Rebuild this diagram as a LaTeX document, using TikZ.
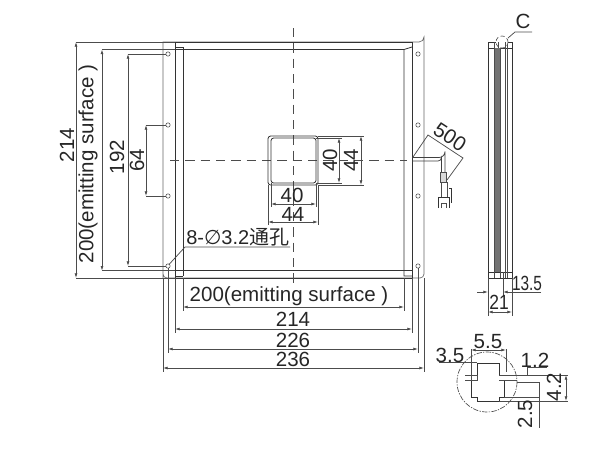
\documentclass[tikz,border=0pt]{standalone}
\usepackage{fontspec}
\setmainfont{Liberation Sans}
\newfontfamily\cjkf{Noto Sans CJK SC}
\newfontfamily\symf{DejaVu Sans}
\usetikzlibrary{arrows.meta}
\tikzset{
  x=0.75pt,y=-0.75pt,
  part/.style={draw=black!80,line width=0.6pt},
  thin part/.style={draw=black!70,line width=0.5pt},
  dim/.style={draw=black!70,line width=0.55pt},
  dimarr/.style={dim,{Latex[length=3.5pt,width=2.2pt]}-{Latex[length=3.5pt,width=2.2pt]}},
  onearr/.style={dim,-{Latex[length=3.5pt,width=2.2pt]}},
  center line/.style={draw=black!70,line width=0.5pt,dash pattern=on 7pt off 4.5pt},
  lab/.style={inner sep=0pt,text=black!85,font=\fontsize{15.4}{17}\selectfont},
  hole/.style={draw=black!70,line width=0.4pt,fill=white},
}
\begin{document}
\begin{tikzpicture}
\useasboundingbox (0,0) rectangle (600,450);
% plate
\draw[thin part,draw=black!60] (163,278) -- (163,42) -- (419,42) arc[start angle=90,end angle=0,radius=5] -- (424,274) arc[start angle=0,end angle=90,radius=4] -- (167,278) arc[start angle=90,end angle=180,radius=4];
% panel
\draw[part] (175,278) -- (175,42) -- (412,42) -- (412,278);
\draw[part] (175,278) -- (412,278);
\draw[part] (175,49.5) -- (404,49.5);
\draw[part] (175,270.7) -- (412,270.7);
\draw[part] (175,47) -- (183,47) -- (183,276);
\draw[part] (412,47) -- (404,49.5) -- (404,276) -- (412,276);
\draw[part] (175,276) -- (183,276);
% center lines
\draw[center line] (293,28) -- (293,284);
\draw[center line] (170,160) -- (407,160);
% holes
\foreach \hx/\hname in {168/l,418/r}
  \foreach \hy/\hn in {54/a,125/b,196/c,266/d}
    \path[hole,draw] (\hx,\hy) circle (2.2) coordinate (h\hname\hn);
% window
\draw[part,rounded corners=2pt] (268,136) rectangle (318,185);
\draw[part,rounded corners=2pt] (271,138) rectangle (316,183);
% left dims
\draw[dimarr] (76,42) -- (76,278);
\draw[dim] (76,42) -- (175,42);
\draw[dim] (76,278) -- (175,278);
\draw[dimarr] (102,49.5) -- (102,270.7);
\draw[dim] (102,49.5) -- (175,49.5);
\draw[dim] (102,270.7) -- (175,270.7);
\draw[dimarr] (128,54) -- (128,266);
\draw[dim] (128,54) -- (165.8,54);
\draw[dim] (128,266) -- (165.8,266);
\draw[dimarr] (146,125) -- (146,196);
\draw[dim] (146,125) -- (165.8,125);
\draw[dim] (146,196) -- (165.8,196);
\node[lab,rotate=90] (t214) at (67,145) {214};
\node[lab,rotate=90] (t200v) at (88,164) {200(emitting surface )};
\node[lab,rotate=90] (t192) at (117,157) {192};
\node[lab,rotate=90] (t64) at (137,160) {64};
% bottom dims
\draw[dim] (163,278) -- (163,372);
\draw[dim] (424,278) -- (424,372);
\draw[dim] (168,268) -- (168,353);
\draw[dim] (418,268) -- (418,353);
\draw[dim] (175,278) -- (175,333);
\draw[dim] (412,278) -- (412,333);
\draw[dim] (183,278) -- (183,311);
\draw[dim] (404,278) -- (404,311);
\draw[dimarr] (183,307) -- (404,307);
\draw[dimarr] (175,329) -- (412,329);
\draw[dimarr] (168,349) -- (418,349);
\draw[dimarr] (163,368) -- (424,368);
\node[lab] (t200h) at (289,296) {200(emitting surface )};
\node[lab] (tb214) at (293,319) {214};
\node[lab] (tb226) at (293,340) {226};
\node[lab] (tb236) at (293,359) {236};
% window dims
\draw[dimarr] (339,138) -- (339,183);
\draw[dimarr] (361,136) -- (361,185);
\draw[dim] (316,138) -- (342,138);
\draw[dim] (316,183) -- (342,183);
\draw[dim] (318,136) -- (364,136);
\draw[dim] (318,185) -- (364,185);
\draw[dimarr] (271,204) -- (316,204);
\draw[dimarr] (268,222) -- (318,222);
\draw[dim] (271,183) -- (271,207);
\draw[dim] (316,183) -- (316,207);
\draw[dim] (268,185) -- (268,225);
\draw[dim] (318,185) -- (318,225);
\node[lab] (w40) at (292,195) {40};
\node[lab] (w44) at (293,214) {44};
\node[lab,rotate=90] (v40) at (330,160) {40};
\node[lab,rotate=90] (v44) at (351,160) {44};
% cable
\draw[line width=0.55pt,draw=black!75] (412,157.5) -- (439,157.5) arc[start angle=90,end angle=0,radius=6] -- (445,172);
\draw[line width=0.55pt,draw=black!75] (412,161) -- (438,161) arc[start angle=90,end angle=0,radius=3.5] -- (441.5,172);
\draw[thin part,fill=black!15] (440.5,172) rectangle (446,182);
\draw[thin part,fill=white] (441,182) rectangle (447,197);
\draw[part] (438,208) -- (438,197) -- (449,197) -- (449,208);
\draw[thin part] (441,208) -- (441,203) -- (446,203) -- (446,208);
\draw[part] (449,188) -- (451,188) -- (451,203);
% 500 dim
\coordinate (c1) at (413,157);
\coordinate (c2) at (428,135);
\coordinate (c3) at (463,158);
\coordinate (c4) at (447,180);
\draw[dim] (c1) -- (c2) -- (c3) -- (c4);
\node[lab,rotate=-33] (t500) at (450,137) {500};
% hole label
\coordinate (la) at (185,247);
\coordinate (lb) at (290,247);
\draw[dim] (hld) ++(1,-1.5) -- (la) -- (lb);
\node[lab,anchor=base west] (thole) at (186,244) {\fontsize{15}{17}\selectfont 8-{\symf ∅}3.2{\cjkf 通孔}};
% side view
\draw[part] (488,42) rectangle (512,278);
\draw[part] (488,48) -- (512,48);
\draw[part] (488,272) -- (512,272);
\fill[black!55] (494,48) rectangle (500,272);
\draw[thin part] (494,42) -- (494,278);
\draw[thin part] (500,42) -- (500,278);
\draw[thin part] (505,42) -- (505,278);
\draw[thin part] (507.5,42) -- (507.5,278);
\draw[thin part,densely dashed,fill=white] (502,42) circle (6);
\draw[thin part] (498,42) -- (498,48) (505,42) -- (505,48);
\coordinate (ca) at (508,38);
\coordinate (cb) at (515,32);
\coordinate (cc) at (532,32);
\draw[dim] (ca) -- (cb) -- (cc);
\node[lab] (tc) at (523,21) {C};
% side dims
\draw[dim] (488,278) -- (488,316);
\draw[dim] (512,278) -- (512,316);
\draw[dim] (503,272) -- (503,296);
\draw[onearr] (477,292) -- (488,292);
\draw[onearr] (541,292) -- (503,292);
\draw[dimarr] (488,312) -- (512,312);
\node[lab,xscale=.75] (t135) at (527,283) {13.5};
\node[lab,xscale=.85] (t21) at (499,302) {21};
% detail
\draw[thin part,dash pattern=on 4pt off 1pt on 1pt off 1pt] (487,382) circle (30);
\draw[draw=black!80,line width=0.7pt] (477,363) -- (499,363) -- (499,375) (499,380) -- (504,380) -- (504,397) -- (499,397) -- (499,401) -- (477,401) -- (477,397) -- (471,397) -- (471,380) -- (477,380) (477,375) -- (477,363);
\draw[thin part] (465,375) -- (477,375) -- (477,380) -- (465,380);
\draw[thin part] (499,375) -- (517,375) (499,380) -- (517,380);
\draw[dim] (471,349) -- (471,380);
\draw[dim] (506,349) -- (506,372);
\draw[dimarr] (471,350) -- (506,350);
\node[lab] (t55) at (488,342) {5.5};
\coordinate (d1) at (439,362);
\coordinate (d2) at (477,362);
\draw[dim] (d1) -- (d2);
\node[lab] (t35) at (450,355) {3.5};
\coordinate (e1) at (547,367);
\coordinate (e2) at (527,367);
\coordinate (e3) at (527,375);
\draw[dim] (e1) -- (e2) -- (e3);
\node[lab] (t12) at (535,360) {1.2};
\draw[dim] (499,375) -- (568,375);
\draw[dim] (517,382) -- (540,382);
\draw[dim] (504,397) -- (540,397);
\draw[dim] (499,401) -- (568,401);
\draw[dim] (539,382) -- (539,428);
\draw[dimarr] (566,375) -- (566,401);
\node[lab,rotate=90] (t42) at (554,387) {4.2};
\node[lab,rotate=90] (t25) at (525,414) {2.5};
\end{tikzpicture}
\end{document}
